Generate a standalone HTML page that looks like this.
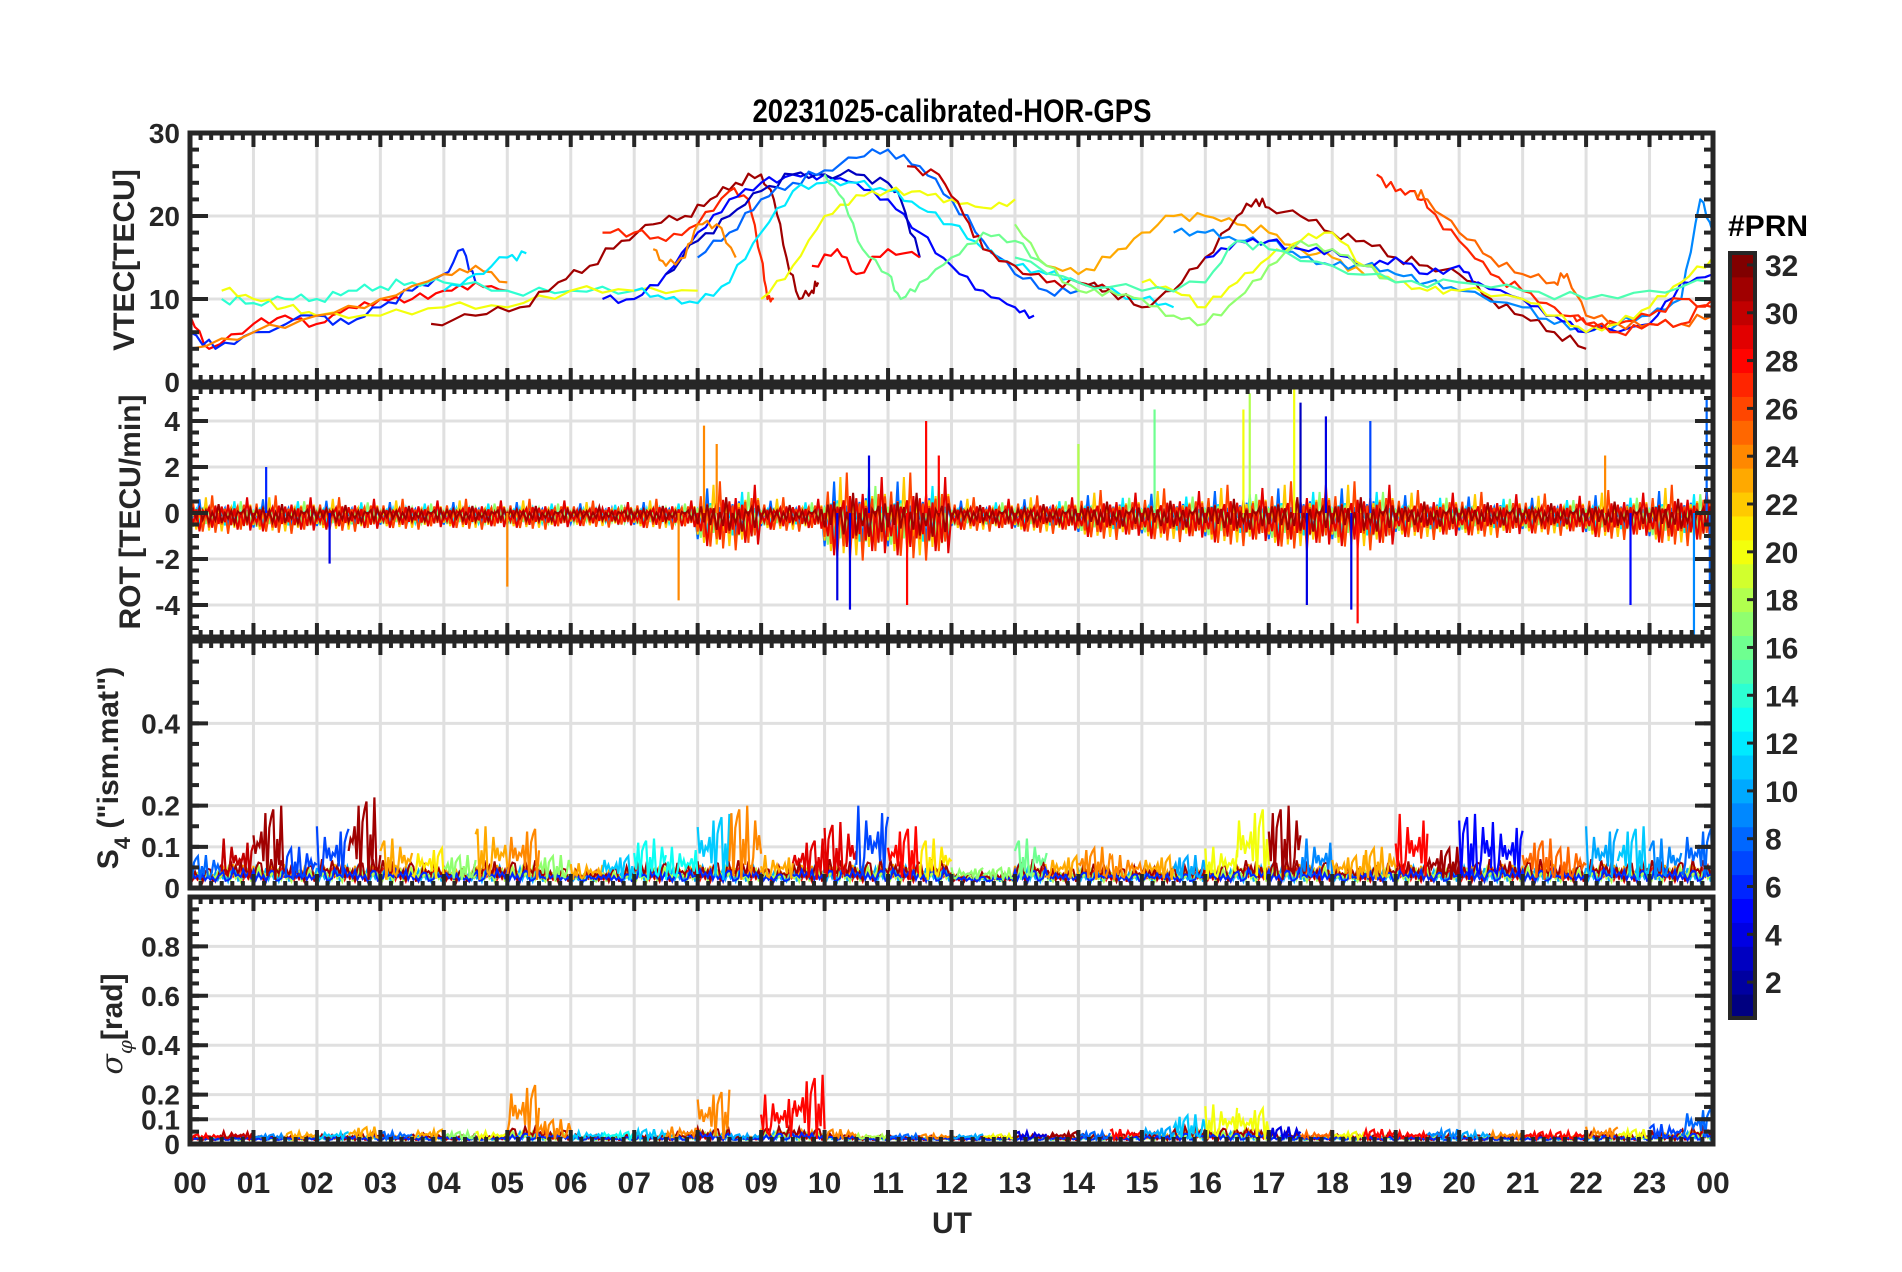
<!DOCTYPE html>
<html><head><meta charset="utf-8"><style>
html,body{margin:0;padding:0;background:#fff}
svg{display:block;font-family:"Liberation Sans",Arial,sans-serif;font-weight:bold}
</style></head><body>
<svg id="fig" width="1902" height="1272" viewBox="0 0 1902 1272" xmlns="http://www.w3.org/2000/svg">
<rect width="1902" height="1272" fill="#fff"/>
<text x="952" y="122" text-anchor="middle" font-size="32" fill="#000" transform="translate(952,0) scale(0.86,1) translate(-952,0)">20231025-calibrated-HOR-GPS</text>
<g id="grid"></g><g id="data"></g><g id="axes"></g>
<text x="952" y="1233" text-anchor="middle" font-size="30" fill="#262626">UT</text>
<text transform="translate(134,260) rotate(-90)" text-anchor="middle" font-size="30" fill="#262626">VTEC[TECU]</text>
<text transform="translate(140,512) rotate(-90)" text-anchor="middle" font-size="30" fill="#262626">ROT [TECU/min]</text>
<text transform="translate(118,768) rotate(-90)" text-anchor="middle" font-size="30" fill="#262626">S<tspan font-size="22" dy="12">4</tspan><tspan dy="-12"> ("ism.mat")</tspan></text>
<text transform="translate(122,1024) rotate(-90)" text-anchor="middle" font-size="30" fill="#262626"><tspan font-style="italic" font-family="'DejaVu Serif',serif" font-weight="normal">σ</tspan><tspan font-size="20" dy="10" font-style="italic" font-family="'DejaVu Serif',serif" font-weight="normal">φ</tspan><tspan dy="-10">[rad]</tspan></text>
<g id="cbar"></g>
<text x="1728" y="236" font-size="30" fill="#000">#PRN</text>
</svg>
<script>
// ---------- data ----------
const hourLabels=["00","01","02","03","04","05","06","07","08","09","10","11","12","13","14","15","16","17","18","19","20","21","22","23","00"];
const vtecTicks=[0,10,20,30];
const rotTicks=[-4,-2,0,2,4];
const s4Ticks=[0,0.1,0.2,0.4];
const sigTicks=[0,0.1,0.2,0.4,0.6,0.8];
const prnTicks=[2,4,6,8,10,12,14,16,18,20,22,24,26,28,30,32];
// VTEC arcs: PRN, then [hour, TECU] pairs
const arcPrns=[28,6,14,20,24,12,31,27,5,3,8,12,20,30,28,24,16,23,31,9,5,27,25,20,17,15,27];
const arcTimes=[
[0,0.3,1,1.5,2,2.5,3,3.5,4,4.5,5],
[0,0.4,1,2,2.5,3,3.5,4,4.3,4.5],
[0.5,1,1.5,2,2.5,3,3.5,4,5,6,7],
[0.5,1,1.5,2,3,4,5,6,7,8],
[0,1,2,3,4,4.5,5],
[4,4.5,5,5.3],
[3.8,4.5,5.2,5.8,6.3,6.8,7.3,7.8,8.2,8.6,9.0,9.2,9.4,9.6,9.8,9.9],
[6.5,7,7.5,8,8.5,8.8,9,9.1,9.2],
[6.5,7,7.5,8,8.5,9,9.5,10,10.5,11,11.5,12,12.5,13,13.3],
[7.5,8,8.5,9,9.5,10,10.5,11,11.2,11.5],
[8,8.5,9,9.5,10,10.5,11,11.5,12,12.5,13,13.5,14],
[7,7.5,8,8.5,9,9.5,10,10.5,11,11.5,12,12.5,13,13.5,14,15,15.5],
[9,9.5,10,10.5,11,11.5,12,12.5,13],
[11.3,11.8,12.2,12.5,13,13.5,14,14.5],
[9.8,10.2,10.5,11,11.5],
[7.3,7.5,7.8,8,8.3,8.6],
[10,10.3,10.6,11,11.2,11.5,12,12.5,13,13.5],
[13.5,14,14.5,15,15.5,16,16.5,17,17.5,18,18.5],
[14,14.5,15,15.5,16,16.5,16.8,17,17.5,18,18.5,19,19.5,20,20.5,21,21.5,22],
[15.5,16,16.5,17,17.5,18,18.5,19,19.5,20,21,21.5,22,22.5,23,23.5,23.8,24],
[16,16.5,17,17.5,18,18.5,19,19.5,20,20.3,21,21.5,22,23,23.5,24],
[18.7,19,19.3,19.5,20,20.5,21,21.5,22,22.5,23,23.5,24],
[19.3,19.5,20,20.5,21,21.5,21.7,22,22.5,23,23.5,24],
[15,15.5,16,16.5,17,17.5,18,18.5,19,19.5,20,21,21.5,22,22.5,23,23.5,24],
[13,13.5,14,14.5,15,15.5,16,16.5,17,17.5,18,18.5,19],
[13,14,15,16,16.5,17,18,19,20,21,22,23,24],
[21.8,22,22.5,23,23.5,24]];
const arcVals=[
[8,4,7,8,7,9,10,10,11,12,11],
[6,4,6,8,7,9,11,13,16,12],
[10,9.5,10,10,11,11.5,12,12,11,11,11],
[11,10,9,8,8,9,9,11,11,11],
[4,6,8,10,13,14,12],
[11,13,15,15.5],
[7,8,9,12,14,17,19,20,22,24,25,22,15,10,11,12],
[18,18,17,19,23,22,15,10,10],
[10,10,13,18,22,24,25,25,24,22,18,14,11,9,8],
[13,17,20,23,25,25,25,24,22,15],
[15,18,22,24,25.5,27,28,26,22,17,13,11,11],
[11,10,9.5,12,18,23,24,24,23,21,19,16,14,13,12,10,9],
[10,14,20,22.5,23,23,22,21,22],
[26,25,20,16,14,12,12,11],
[14,16,13,16,15],
[16,14,15,19,19,15],
[25,22,16,13,10,12,15,18,17,14],
[14,13,15,18,20,20,19,18,16,15,13],
[12,11,9,11,15,20,22,21,20,18,17,15,14,13,10,8,6,4],
[18,18,17,17,15,14,14,13,12,11,9,7,6,7,8,10,22,18],
[15,17,17,16,16,14,15,13,14,12,10,8,6,7,12,13],
[25,23,23,21,17,13,11,9,7,7,8,10,9],
[23,22,18,15,13,12,13,8,7,7,7,8],
[12,11,9,12,15,17,18,14,12,11,11,10,8,6,7,9,12,15],
[19,14,11,11,10,8,7,10,14,17,16,14,12],
[15,12,11,12,17,16,14,12,12,11,10,11,12],
[8,7,6,7,7,10]];
// ROT typical amplitude per hour (TECU/min)
const rotAmp=[1.0,1.0,0.9,0.8,0.8,0.8,0.7,0.8,1.8,0.9,2.3,2.3,0.9,1.0,1.3,1.4,1.6,1.8,1.8,1.3,1.2,1.1,1.3,1.6];
// ROT isolated spikes: hour, value, PRN
const rotSpikeT=[1.2,2.2,5.0,7.7,8.1,8.3,10.2,10.4,10.7,11.3,11.6,11.8,14.0,15.2,16.6,16.7,17.4,17.5,17.6,17.9,18.3,18.4,18.6,22.3,22.7,23.7,23.9,23.95];
const rotSpikeV=[2.0,-2.2,-3.2,-3.8,3.8,3.0,-3.8,-4.2,2.5,-4.0,4.0,2.5,3.0,4.5,4.5,5.2,5.5,4.8,-4.0,4.2,-4.2,-4.8,4.0,2.5,-4.0,-5.3,5.0,-3.5];
const rotSpikeP=[6,4,24,24,24,24,4,4,4,28,28,28,18,16,20,18,20,3,4,4,4,28,7,24,5,9,8,8];
// S4 typical burst height per half hour and dominant PRN
const s4Amp=[0.08,0.12,0.20,0.10,0.15,0.22,0.12,0.10,0.08,0.15,0.15,0.08,0.06,0.08,0.12,0.10,0.18,0.20,0.08,0.12,0.16,0.20,0.15,0.12,0.05,0.05,0.12,0.08,0.10,0.08,0.08,0.08,0.10,0.20,0.20,0.12,0.08,0.10,0.18,0.10,0.18,0.16,0.12,0.10,0.15,0.15,0.12,0.15];
const s4Prn=[8,30,31,7,7,31,23,21,17,23,24,17,23,11,13,13,11,24,23,29,29,7,28,21,17,17,16,23,24,24,23,10,20,20,31,9,23,23,28,31,5,5,25,25,10,11,9,8];
// sigma-phi burst height per half hour and PRN
const sigAmp=[0.04,0.05,0.04,0.05,0.05,0.07,0.05,0.06,0.05,0.05,0.25,0.10,0.05,0.05,0.06,0.07,0.22,0.04,0.20,0.28,0.06,0.04,0.04,0.04,0.04,0.04,0.05,0.05,0.05,0.06,0.07,0.12,0.16,0.15,0.07,0.05,0.05,0.06,0.05,0.06,0.05,0.05,0.05,0.05,0.07,0.06,0.08,0.15];
const sigPrn=[28,30,9,23,11,23,8,23,17,20,24,24,11,13,11,24,24,10,28,28,24,18,8,24,10,20,4,31,8,28,10,11,20,20,4,25,20,28,28,9,10,24,28,28,24,20,7,8];
// fixed jitter pattern (shape of fluctuation, 0..1)
const pattern=[0.9,0.2,0.6,0.05,1.0,0.35,0.7,0.15,0.5,0.85,0.1,0.45,0.95,0.3,0.65,0.0,0.8,0.25,0.55,0.4];

// ---------- geometry ----------
const NS="http://www.w3.org/2000/svg";
const X0=190,X1=1713;
const xs=t=>X0+t*(X1-X0)/24;
const P=[
 {top:133,bot:382,y:v=>382-v*(249/30)},
 {top:387,bot:637,y:v=>513-v*23},
 {top:641,bot:888,y:v=>888-v*(247/0.6)},
 {top:897,bot:1144,y:v=>1144-v*247}];
function el(tag,attrs,parent){const e=document.createElementNS(NS,tag);for(const k in attrs)e.setAttribute(k,attrs[k]);parent.appendChild(e);return e;}
function jet(prn){const v=(prn-1)/31;const c=x=>Math.round(255*Math.max(0,Math.min(1,1.5-Math.abs(4*v-x))));return `rgb(${c(3)},${c(2)},${c(1)})`;}
const G=document.getElementById('grid'),D=document.getElementById('data'),A=document.getElementById('axes'),CB=document.getElementById('cbar');
const ink="#262626";
const yt=[vtecTicks,rotTicks,s4Ticks,sigTicks];
const minorY=[[2,30,2],[-5,5,0.5],[0,0.6,0.05],[0,1,0.05]];
P.forEach((p,pi)=>{
 for(let h=1;h<24;h++){const g=el('line',{x1:xs(h),x2:xs(h),y1:p.top,y2:p.bot,stroke:'#e0e0e0','stroke-width':3},G);
  }
 yt[pi].forEach(v=>{const y=p.y(v);if(y>p.top+3&&y<p.bot-3){const g=el('line',{x1:X0,x2:X1,y1:y,y2:y,stroke:'#e0e0e0','stroke-width':3},G);
  }});
 const r=el('rect',{x:X0,y:p.top,width:X1-X0,height:p.bot-p.top,fill:'none',stroke:ink,'stroke-width':5},A);
 
 for(let m=0;m<=144;m++){const x=xs(m/6);const L=m%6===0?14:7;
  el('line',{x1:x,x2:x,y1:p.top,y2:p.top+L,stroke:ink,'stroke-width':4},A);
  el('line',{x1:x,x2:x,y1:p.bot,y2:p.bot-L,stroke:ink,'stroke-width':4},A);}
 const [a,b,s]=minorY[pi];
 for(let v=a;v<=b+1e-9;v+=s){const y=p.y(v);if(y<p.top||y>p.bot)continue;
  el('line',{x1:X0,x2:X0+9,y1:y,y2:y,stroke:ink,'stroke-width':4},A);el('line',{x1:X1,x2:X1-9,y1:y,y2:y,stroke:ink,'stroke-width':4},A);}
 yt[pi].forEach(v=>{const y=p.y(v);
  el('line',{x1:X0,x2:X0+18,y1:y,y2:y,stroke:ink,'stroke-width':4},A);el('line',{x1:X1,x2:X1-18,y1:y,y2:y,stroke:ink,'stroke-width':4},A);
  const t=el('text',{x:180,y:y+10,'text-anchor':'end','font-size':28,fill:ink},A);t.textContent=String(v);
  });
});
hourLabels.forEach((s,i)=>{const t=el('text',{x:xs(i),y:1193,'text-anchor':'middle','font-size':30,fill:ink},A);t.textContent=s;
 });

// VTEC arcs
arcTimes.forEach((ts,k)=>{let d='';ts.forEach((t,i)=>{const v=arcVals[k][i];d+=(i?'L':'M')+xs(t).toFixed(1)+','+P[0].y(v).toFixed(1);
  if(i<ts.length-1){const t2=ts[i+1],v2=arcVals[k][i+1];for(let j=1;j<4;j++){const f=j/4;const w=(pattern[(i*4+j+k)%20]-0.5)*1.2;
   d+='L'+xs(t+(t2-t)*f).toFixed(1)+','+P[0].y(v+(v2-v)*f+w).toFixed(1);}}});
 const pl=el('path',{d:d,fill:'none',stroke:jet(arcPrns[k]),'stroke-width':2.2,'stroke-linejoin':'round'},D);
 });

// ROT noise series
const rotSeries=[[8,0.7],[12,0.6],[22,0.8],[17,0.6],[26,0.9],[29,0.8],[31,0.45]];
rotSeries.forEach(([prn,sc],k)=>{let d='';const N=480;for(let i=0;i<=N;i++){const t=24*i/N;const a=rotAmp[Math.min(23,Math.floor(t))];
  const sgn=(i+k)%2?1:-1;const v=sgn*a*sc*pattern[(i*3+k*7)%20];d+=(i?'L':'M')+xs(t).toFixed(1)+','+P[1].y(v).toFixed(1);}
 const pl=el('path',{d:d,fill:'none',stroke:jet(prn),'stroke-width':2},D);
 });
rotSpikeT.forEach((t,i)=>{const s=el('line',{x1:xs(t),x2:xs(t),y1:P[1].y(0),y2:P[1].y(rotSpikeV[i]),stroke:jet(rotSpikeP[i]),'stroke-width':2.2},D);
 });

// S4 / sigma: baseline series + bursts
function noisePanel(pi,amp,prns,base,name){
 const baseSeries=[[28,0.25],[23,0.35],[10,0.3],[18,0.3],[31,0.45],[6,0.25]];
 baseSeries.forEach(([prn,sc],k)=>{let d='';const N=600;for(let i=0;i<=N;i++){const t=24*i/N;const a=amp[Math.min(47,Math.floor(t*2))];
   const v=base*0.4+Math.min(a,base*3)*sc*pattern[(i*7+k*5)%20];d+=(i?'L':'M')+xs(t).toFixed(1)+','+P[pi].y(v).toFixed(1);}
  const pl=el('path',{d:d,fill:'none',stroke:jet(prn),'stroke-width':2},D);
  });
 amp.forEach((a,h)=>{let d='';const n=16;for(let i=0;i<=n;i++){const t=h/2+i/(2*n);const v=base*0.5+(a-base*0.5)*pattern[(i*3+h)%20];
   d+=(i?'L':'M')+xs(t).toFixed(1)+','+P[pi].y(Math.max(0,v)).toFixed(1);}
  const pl=el('path',{d:d,fill:'none',stroke:jet(prns[h]),'stroke-width':2.2},D);
  });
}
noisePanel(2,s4Amp,s4Prn,0.04,'s4');
noisePanel(3,sigAmp,sigPrn,0.04,'sigma-phi');

// colorbar
const CX=1730,CW=25,CT=253,CBt=1018;const seg=(CBt-CT)/32;
for(let p=1;p<=32;p++){const r=el('rect',{x:CX,y:CBt-p*seg,width:CW,height:seg+0.5,fill:jet(p)},CB);
 }
const cbo=el('rect',{x:CX,y:CT,width:CW,height:CBt-CT,fill:'none',stroke:ink,'stroke-width':4},CB);

prnTicks.forEach(v=>{const y=CBt-(v-0.5)*seg;el('line',{x1:CX+CW-8,x2:CX+CW,y1:y,y2:y,stroke:ink,'stroke-width':3},CB);
 const t=el('text',{x:1765,y:y+11,'font-size':30,fill:ink},CB);t.textContent=v;
 });
</script>
</body></html>
